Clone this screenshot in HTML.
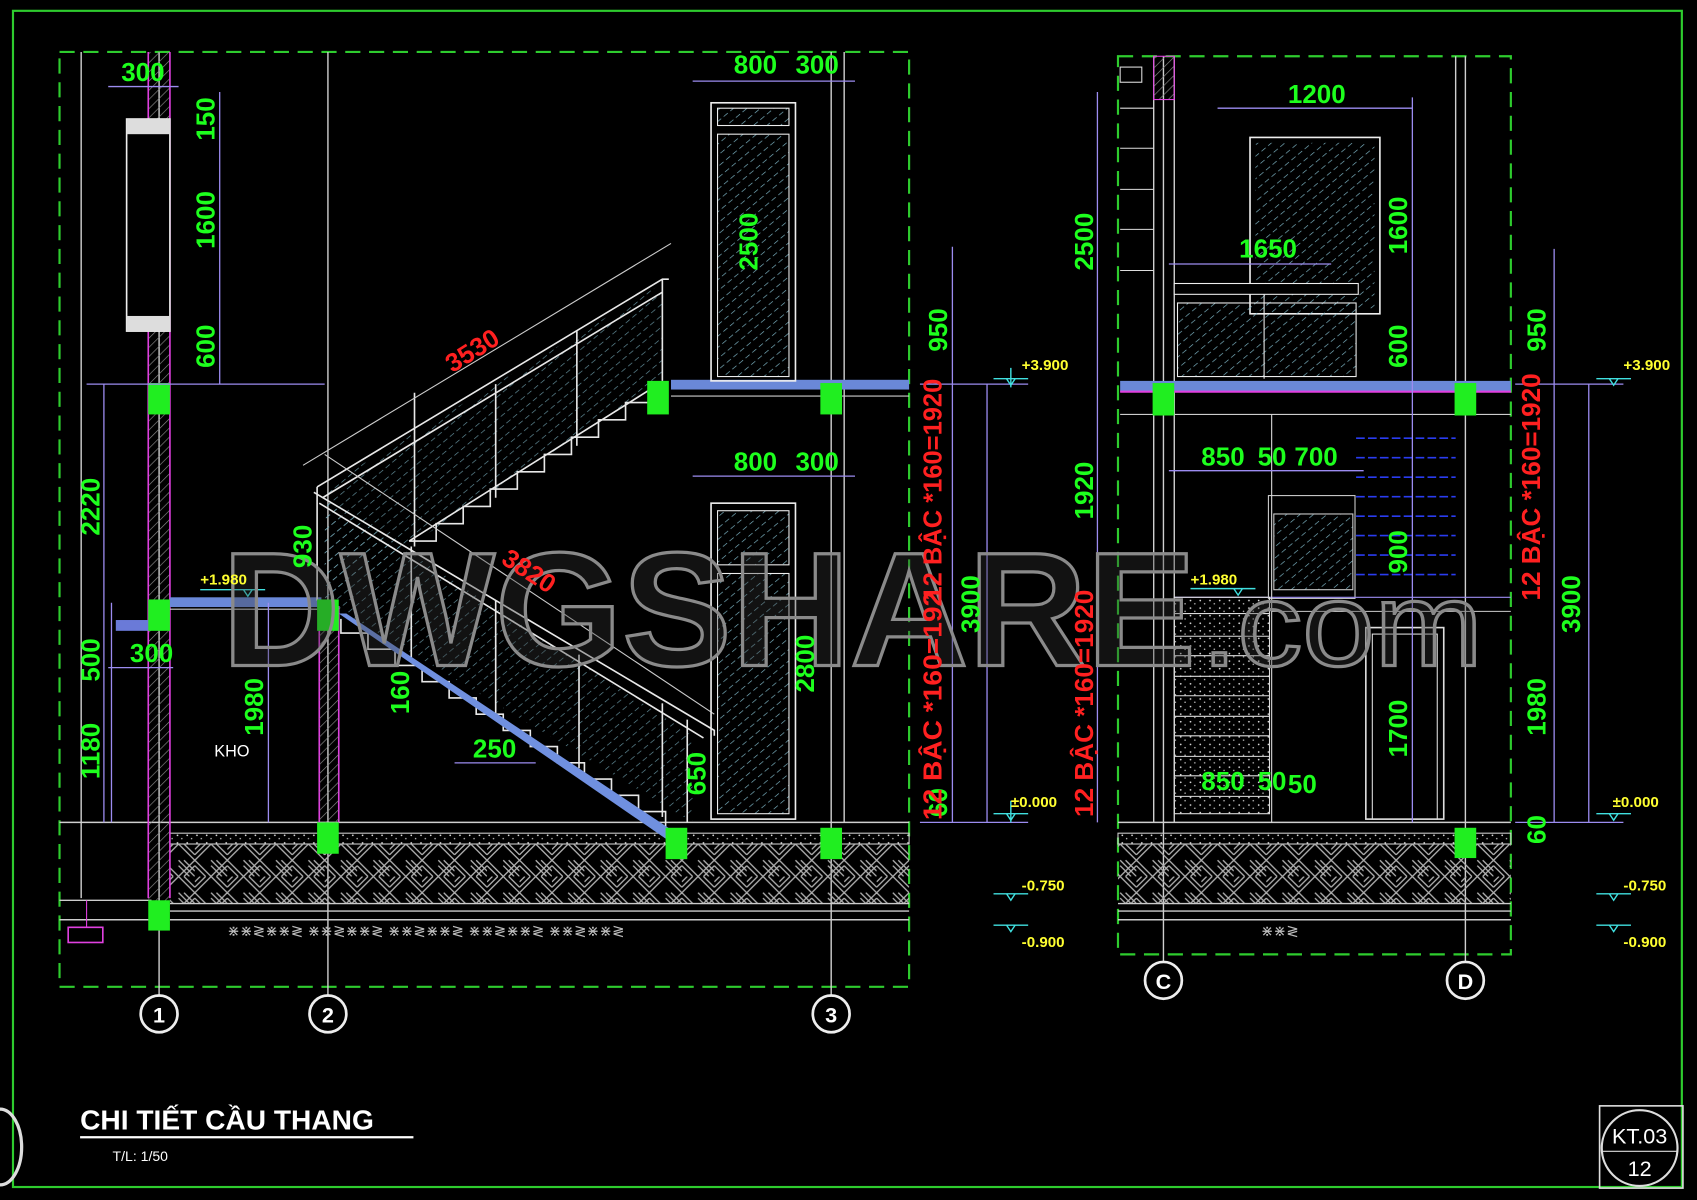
<!DOCTYPE html>
<html><head><meta charset="utf-8"><style>
html,body{margin:0;padding:0;background:#000;}
svg{display:block}
.g{fill:#1dff1d;font-family:"Liberation Sans Narrow","Liberation Sans",sans-serif;font-weight:bold;font-size:24px}
.r{fill:#ff2020;font-family:"Liberation Sans Narrow","Liberation Sans",sans-serif;font-weight:bold;font-size:24px}
.y{fill:#ffff30;font-family:"Liberation Sans Narrow","Liberation Sans",sans-serif;font-weight:bold;font-size:14px}
.w{stroke:#e8e8e8;fill:none;stroke-width:1.5}
.d{stroke:#9c8cf0;fill:none;stroke-width:1.2}
</style></head><body>
<svg width="1697" height="1200" viewBox="0 0 1568 1109" preserveAspectRatio="none" xmlns="http://www.w3.org/2000/svg">
<defs>
<pattern id="hw" width="6" height="6" patternUnits="userSpaceOnUse" patternTransform="rotate(45)"><line x1="0" y1="0" x2="0" y2="6" stroke="#8a8a8a" stroke-width="1.2"/></pattern>
<pattern id="hc" width="8" height="8" patternUnits="userSpaceOnUse" patternTransform="rotate(50)"><line x1="0" y1="0" x2="0" y2="5" stroke="#7fb8c8" stroke-width="1.2"/></pattern>
<pattern id="gr" width="30" height="30" patternUnits="userSpaceOnUse">
<g stroke="#b0b0b0" stroke-width="1.2"><line x1="0" y1="10" x2="10" y2="0"/><line x1="0" y1="15" x2="15" y2="0"/><line x1="0" y1="5" x2="5" y2="0"/><line x1="15" y1="15" x2="30" y2="30"/><line x1="20" y1="15" x2="30" y2="25"/><line x1="15" y1="20" x2="25" y2="30"/><line x1="15" y1="0" x2="30" y2="15"/><line x1="20" y1="0" x2="30" y2="10"/><line x1="0" y1="15" x2="15" y2="30"/><line x1="0" y1="20" x2="10" y2="30"/><line x1="30" y1="15" x2="15" y2="30"/><line x1="30" y1="20" x2="20" y2="30"/></g></pattern>
<pattern id="sp" width="9" height="7" patternUnits="userSpaceOnUse"><circle cx="2" cy="2" r="0.8" fill="#ddd"/><circle cx="6" cy="5" r="0.7" fill="#bbb"/></pattern>
</defs>
<rect width="1568" height="1109" fill="#000"/>
<rect x="12" y="10" width="1542" height="1087" fill="none" stroke="#2ecc2e" stroke-width="2"/>
<rect x="1478" y="1022" width="77" height="76" fill="none" stroke="#ddd" stroke-width="1.5"/>
<circle cx="1515" cy="1061" r="35" fill="none" stroke="#ddd" stroke-width="2"/>
<line x1="1480" y1="1064" x2="1550" y2="1064" stroke="#ddd"/>
<text x="1515" y="1057" fill="#fff" font-family="Liberation Sans,sans-serif" font-size="20" text-anchor="middle">KT.03</text>
<text x="1515" y="1087" fill="#fff" font-family="Liberation Sans,sans-serif" font-size="20" text-anchor="middle">12</text>
<path d="M0 1025 A20 35 0 0 1 0 1095" fill="none" stroke="#ddd" stroke-width="3"/>
<text x="74" y="1044" fill="#fff" font-family="Liberation Sans,sans-serif" font-weight="bold" font-size="26">CHI TIẾT CẦU THANG</text>
<line x1="74" y1="1051" x2="382" y2="1051" stroke="#fff" stroke-width="2"/>
<text x="104" y="1073" fill="#fff" font-family="Liberation Sans,sans-serif" font-size="13">T/L: 1/50</text>

<rect x="55" y="48" width="785" height="864" fill="none" stroke="#2ecc2e" stroke-width="2" stroke-dasharray="14,8"/>
<rect x="1033" y="52" width="363" height="830" fill="none" stroke="#2ecc2e" stroke-width="2" stroke-dasharray="14,8"/>

<g stroke="#cfcfcf" stroke-width="1.3">
<line x1="147" y1="48" x2="147" y2="920"/><line x1="303" y1="48" x2="303" y2="920"/><line x1="768" y1="48" x2="768" y2="920"/>
<line x1="1075" y1="52" x2="1075" y2="890"/><line x1="1354" y1="52" x2="1354" y2="890"/>
<line x1="780" y1="48" x2="780" y2="760"/><line x1="1066" y1="52" x2="1066" y2="760"/><line x1="1085" y1="52" x2="1085" y2="760"/><line x1="1345" y1="52" x2="1345" y2="360"/>
<line x1="55" y1="760" x2="840" y2="760"/><line x1="1033" y1="760" x2="1396" y2="760"/>
<line x1="75" y1="48" x2="75" y2="830"/>
</g>
<g fill="none" stroke="#eee" stroke-width="2.5">
<circle cx="147" cy="937" r="17"/><circle cx="303" cy="937" r="17"/><circle cx="768" cy="937" r="17"/><circle cx="1075" cy="906" r="17"/><circle cx="1354" cy="906" r="17"/></g>
<g fill="#fff" font-family="Liberation Sans,sans-serif" font-weight="bold" font-size="20" text-anchor="middle">
<text x="147" y="945">1</text><text x="303" y="945">2</text><text x="768" y="945">3</text><text x="1075" y="914">C</text><text x="1354" y="914">D</text></g>

<rect x="157" y="770" width="683" height="10" fill="url(#sp)" stroke="#ccc"/>
<rect x="157" y="780" width="683" height="55" fill="url(#gr)"/>
<g stroke="#ccc" stroke-width="1.3"><line x1="157" y1="835" x2="840" y2="835"/><line x1="157" y1="842" x2="840" y2="842"/><line x1="157" y1="850" x2="840" y2="850"/>
<line x1="55" y1="832" x2="140" y2="832"/><line x1="55" y1="850" x2="140" y2="850"/></g>
<rect x="1033" y="770" width="363" height="10" fill="url(#sp)" stroke="#ccc"/>
<rect x="1033" y="780" width="363" height="55" fill="url(#gr)"/>
<g stroke="#ccc" stroke-width="1.3"><line x1="1033" y1="835" x2="1396" y2="835"/><line x1="1033" y1="842" x2="1396" y2="842"/><line x1="1033" y1="850" x2="1396" y2="850"/></g>
<g fill="#bbb" font-family="Liberation Sans,sans-serif" font-size="14">
<text x="210" y="865">⋇⋇≷⋇⋇≷  ⋇⋇≷⋇⋇≷  ⋇⋇≷⋇⋇≷  ⋇⋇≷⋇⋇≷  ⋇⋇≷⋇⋇≷</text>
<text x="1165" y="865">⋇⋇≷</text></g>
<rect x="63" y="857" width="32" height="14" fill="none" stroke="#e040e0" stroke-width="1.5"/>
<line x1="80" y1="832" x2="80" y2="857" stroke="#e040e0"/>

<rect x="137" y="48" width="20" height="790" fill="url(#hw)"/>
<g stroke="#e040e0" stroke-width="1.5"><line x1="137" y1="48" x2="137" y2="830"/><line x1="157" y1="48" x2="157" y2="830"/>
<line x1="295" y1="560" x2="295" y2="760"/><line x1="313" y1="560" x2="313" y2="760"/></g>
<rect x="295" y="560" width="18" height="200" fill="url(#hw)"/>
<rect x="117" y="110" width="40" height="196" fill="#000" stroke="#eee" stroke-width="1.5"/>
<rect x="117" y="110" width="40" height="14" fill="#ddd"/><rect x="117" y="292" width="40" height="14" fill="#ddd"/>
<rect x="107" y="573" width="30" height="10" fill="#6a7ad8"/>

<rect x="620" y="351" width="220" height="9" fill="#6a88d8"/>
<rect x="157" y="552" width="140" height="9" fill="#6a88d8"/>
<rect x="1035" y="352" width="361" height="10" fill="#6a88d8"/>
<line x1="1035" y1="362" x2="1396" y2="362" stroke="#e040e0" stroke-width="2"/>
<g stroke="#ccc"><line x1="157" y1="563" x2="300" y2="563"/><line x1="620" y1="366" x2="840" y2="366"/><line x1="1035" y1="383" x2="1396" y2="383"/></g>

<polygon points="300,450 612,262 612,352 300,555" fill="url(#hc)" opacity="0.8"/>
<polygon points="300,460 640,680 640,760 300,555" fill="url(#hc)" opacity="0.8"/>
<g class="w">
<polyline points="293,450 612,258 618,258"/><polyline points="298,460 612,270"/>
<polyline points="378,500 403,500 403,484 428,484 428,468 453,468 453,452 478,452 478,436 503,436 503,420 528,420 528,404 553,404 553,388 578,388 578,372 603,372 603,356"/>
<line x1="378" y1="500" x2="607" y2="356"/>
<line x1="383" y1="363" x2="383" y2="505"/><line x1="458" y1="355" x2="458" y2="460"/><line x1="533" y1="306" x2="533" y2="412"/><line x1="612" y1="258" x2="612" y2="352"/>
<polyline points="290,455 660,675 660,680"/><polyline points="295,465 650,682"/>
<polyline points="315,572 315,585 340,585 340,600 365,600 365,615 390,615 390,630 415,630 415,645 440,645 440,660 465,660 465,675 490,675 490,690 515,690 515,705 540,705 540,720 565,720 565,735 590,735 590,750 615,750 615,765"/>
<line x1="380" y1="505" x2="380" y2="612"/><line x1="458" y1="555" x2="458" y2="660"/><line x1="535" y1="605" x2="535" y2="710"/><line x1="612" y1="650" x2="612" y2="755"/><line x1="635" y1="665" x2="635" y2="760"/>
<line x1="293" y1="450" x2="293" y2="555"/>
</g>
<polygon points="313,567 320,567 625,770 615,775" fill="#7090e0"/>
<line x1="280" y1="430" x2="620" y2="225" stroke="#ccc"/><line x1="300" y1="420" x2="660" y2="660" stroke="#ccc"/>

<rect x="657" y="95" width="78" height="257" fill="none" stroke="#eee" stroke-width="1.5"/>
<rect x="663" y="100" width="66" height="16" fill="url(#hc)" stroke="#eee"/>
<rect x="663" y="124" width="66" height="224" fill="url(#hc)" stroke="#eee"/>
<rect x="657" y="465" width="78" height="292" fill="none" stroke="#eee" stroke-width="1.5"/>
<rect x="663" y="472" width="66" height="50" fill="url(#hc)" stroke="#eee"/>
<rect x="663" y="530" width="66" height="222" fill="url(#hc)" stroke="#eee"/>

<rect x="1066" y="52" width="19" height="40" fill="url(#hw)" stroke="#e040e0"/>
<rect x="1035" y="62" width="20" height="14" fill="none" stroke="#ddd"/>
<g stroke="#ddd"><line x1="1035" y1="100" x2="1066" y2="100"/><line x1="1035" y1="137" x2="1066" y2="137"/><line x1="1035" y1="175" x2="1066" y2="175"/><line x1="1035" y1="212" x2="1066" y2="212"/><line x1="1035" y1="250" x2="1066" y2="250"/></g>
<rect x="1155" y="127" width="120" height="163" fill="#000" stroke="#eee" stroke-width="1.5"/>
<rect x="1160" y="132" width="110" height="153" fill="url(#hc)"/>
<rect x="1085" y="262" width="170" height="10" fill="#000" stroke="#eee"/>
<rect x="1088" y="280" width="165" height="68" fill="url(#hc)" stroke="#eee"/>
<line x1="1168" y1="272" x2="1168" y2="350" stroke="#eee"/>
<rect x="1172" y="458" width="80" height="95" fill="none" stroke="#ccc"/>
<rect x="1177" y="475" width="73" height="70" fill="url(#hc)" stroke="#ccc"/>
<g stroke="#2a3cf0" stroke-width="1.5" stroke-dasharray="8,3"><line x1="1253" y1="405" x2="1345" y2="405"/><line x1="1253" y1="423" x2="1345" y2="423"/><line x1="1253" y1="441" x2="1345" y2="441"/><line x1="1253" y1="459" x2="1345" y2="459"/><line x1="1253" y1="477" x2="1345" y2="477"/><line x1="1253" y1="495" x2="1345" y2="495"/><line x1="1253" y1="513" x2="1345" y2="513"/><line x1="1253" y1="531" x2="1345" y2="531"/></g>
<line x1="1085" y1="552" x2="1396" y2="552" stroke="#9c8cf0"/>
<line x1="1175" y1="565" x2="1396" y2="565" stroke="#ccc"/>
<rect x="1085" y="552" width="88" height="200" fill="url(#sp)" stroke="#ddd"/>
<g stroke="#ddd"><line x1="1085" y1="567" x2="1173" y2="567"/><line x1="1085" y1="588" x2="1173" y2="588"/><line x1="1085" y1="606" x2="1173" y2="606"/><line x1="1085" y1="625" x2="1173" y2="625"/><line x1="1085" y1="643" x2="1173" y2="643"/><line x1="1085" y1="662" x2="1173" y2="662"/><line x1="1085" y1="680" x2="1173" y2="680"/><line x1="1085" y1="699" x2="1173" y2="699"/><line x1="1085" y1="717" x2="1173" y2="717"/><line x1="1085" y1="736" x2="1173" y2="736"/>
<line x1="1175" y1="383" x2="1175" y2="760"/></g>
<rect x="1262" y="580" width="72" height="177" fill="none" stroke="#ddd" stroke-width="1.5"/>
<rect x="1268" y="586" width="60" height="171" fill="none" stroke="#ddd"/>

<g fill="#20ee20">
<rect x="137" y="354" width="20" height="29"/><rect x="137" y="554" width="20" height="29"/><rect x="293" y="554" width="20" height="29"/>
<rect x="598" y="352" width="20" height="31"/><rect x="758" y="354" width="20" height="29"/>
<rect x="293" y="760" width="20" height="29"/><rect x="615" y="765" width="20" height="29"/><rect x="758" y="765" width="20" height="29"/>
<rect x="137" y="832" width="20" height="28"/><rect x="1065" y="354" width="20" height="30"/><rect x="1344" y="354" width="20" height="30"/><rect x="1344" y="765" width="20" height="28"/></g>

<g class="d">
<line x1="203" y1="85" x2="203" y2="355"/><line x1="96" y1="355" x2="96" y2="760"/><line x1="248" y1="557" x2="248" y2="760"/><line x1="103" y1="557" x2="103" y2="760"/>
<line x1="880" y1="228" x2="880" y2="760"/><line x1="912" y1="355" x2="912" y2="760"/>
<line x1="1014" y1="85" x2="1014" y2="760"/><line x1="1305" y1="90" x2="1305" y2="760"/>
<line x1="1436" y1="230" x2="1436" y2="760"/><line x1="1468" y1="355" x2="1468" y2="760"/>
<line x1="80" y1="355" x2="300" y2="355"/><line x1="640" y1="75" x2="790" y2="75"/><line x1="640" y1="440" x2="790" y2="440"/>
<line x1="1125" y1="100" x2="1305" y2="100"/><line x1="1080" y1="435" x2="1260" y2="435"/><line x1="1080" y1="244" x2="1230" y2="244"/>
<line x1="420" y1="705" x2="495" y2="705"/><line x1="100" y1="80" x2="165" y2="80"/><line x1="100" y1="617" x2="160" y2="617"/>
<line x1="850" y1="760" x2="950" y2="760"/><line x1="850" y1="355" x2="950" y2="355"/><line x1="1400" y1="355" x2="1500" y2="355"/><line x1="1400" y1="760" x2="1500" y2="760"/>
</g>
<g stroke="#40e0e0" stroke-width="1.3" fill="none">
<path d="M918 350 L950 350 M930 350 l4 6 l4 -6 M934 340 V358"/><path d="M918 752 L950 752 M930 752 l4 6 l4 -6 M934 740 V760"/>
<path d="M918 826 L950 826 M930 826 l4 6 l4 -6"/><path d="M918 855 L950 855 M930 855 l4 6 l4 -6"/>
<path d="M1475 350 L1507 350 M1487 350 l4 6 l4 -6"/><path d="M1475 752 L1507 752 M1487 752 l4 6 l4 -6"/>
<path d="M1475 826 L1507 826 M1487 826 l4 6 l4 -6"/><path d="M1475 855 L1507 855 M1487 855 l4 6 l4 -6"/>
<path d="M185 545 L245 545 M225 545 l4 6 l4 -6"/><path d="M1100 544 L1160 544 M1140 544 l4 6 l4 -6"/>
</g>

<text x="205" y="615" fill="#333" fill-opacity="0.35" stroke="#8a8a8a" stroke-width="3" font-family="Liberation Sans,sans-serif" font-weight="bold" font-size="150" textLength="900" lengthAdjust="spacingAndGlyphs">DWGSHARE</text>
<text x="1110" y="615" fill="#333" fill-opacity="0.35" stroke="#8a8a8a" stroke-width="3" font-family="Liberation Sans,sans-serif" font-size="110" textLength="260" lengthAdjust="spacingAndGlyphs">.com</text>

<g class="g">
<text x="112" y="75">300</text><text x="678" y="68">800</text><text x="735" y="68">300</text><text x="678" y="435">800</text><text x="735" y="435">300</text>
<text x="120" y="612">300</text><text x="437" y="700">250</text>
<text x="1190" y="95">1200</text><text x="1145" y="238">1650</text><text x="1110" y="430">850</text><text x="1162" y="430">50</text><text x="1196" y="430">700</text>
<text x="1110" y="730">850</text><text x="1162" y="730">50</text><text x="1190" y="733">50</text>
<g transform="rotate(-90)">
<text x="-130" y="198">150</text><text x="-230" y="198">1600</text><text x="-340" y="198">600</text>
<text x="-495" y="92">2220</text><text x="-630" y="92">500</text><text x="-720" y="92">1180</text>
<text x="-680" y="243">1980</text><text x="-525" y="288">930</text><text x="-660" y="378">160</text>
<text x="-250" y="700">2500</text><text x="-640" y="752">2800</text><text x="-735" y="652">650</text>
<text x="-585" y="905">3900</text>
<text x="-250" y="1010">2500</text><text x="-480" y="1010">1920</text>
<text x="-235" y="1300">1600</text><text x="-340" y="1300">600</text><text x="-530" y="1300">900</text><text x="-700" y="1300">1700</text>
<text x="-585" y="1460">3900</text><text x="-680" y="1428">1980</text><text x="-325" y="1428">950</text><text x="-780" y="1428">60</text>
<text x="-325" y="875">950</text><text x="-755" y="875">60</text>
</g></g>
<g class="r">
<text transform="translate(418,345) rotate(-32)">3530</text>
<text transform="translate(462,520) rotate(33)">3820</text>
<g transform="rotate(-90)">
<text x="-758" y="870" textLength="212" lengthAdjust="spacingAndGlyphs">12 BẬC *160=192</text>
<text x="-555" y="870" textLength="205" lengthAdjust="spacingAndGlyphs">12 BẬC *160=1920</text>
<text x="-755" y="1010" textLength="210" lengthAdjust="spacingAndGlyphs">12 BẬC *160=1920</text>
<text x="-555" y="1423" textLength="210" lengthAdjust="spacingAndGlyphs">12 BẬC *160=1920</text>
</g></g>
<g class="y">
<text x="944" y="342">+3.900</text><text x="934" y="746">±0.000</text><text x="944" y="823">-0.750</text><text x="944" y="875">-0.900</text>
<text x="1500" y="342">+3.900</text><text x="1490" y="746">±0.000</text><text x="1500" y="823">-0.750</text><text x="1500" y="875">-0.900</text>
<text x="185" y="540">+1.980</text><text x="1100" y="540">+1.980</text></g>
<text x="198" y="699" fill="#fff" font-family="Liberation Sans,sans-serif" font-size="15">KHO</text>
</svg>
</body></html>
